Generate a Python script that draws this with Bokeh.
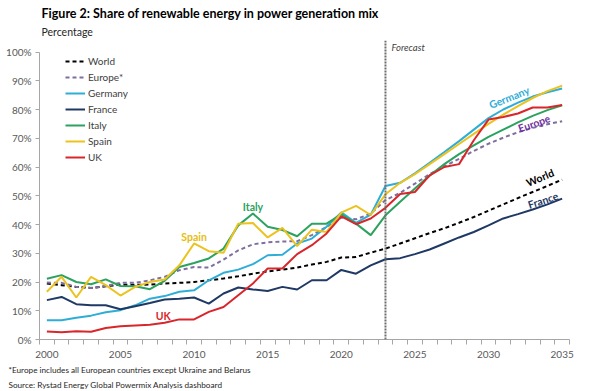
from bokeh.plotting import figure
from bokeh.models import Range1d, FixedTicker, Label, Span, Legend, LegendItem, CustomJSTickFormatter, Title
from bokeh.embed import file_html
from bokeh.resources import INLINE

years = list(range(2000, 2036))

world = [19.5, 18.9, 18.3, 17.9, 18.5, 19.1, 19.0, 19.1, 19.5, 19.7, 20.0, 20.6, 21.2, 22.0, 22.9, 23.7, 24.3, 25.0,
         26.1, 27.0, 28.5, 28.7, 30.2, 31.6, 33.4, 35.2, 37.0, 38.7, 40.6, 42.6, 44.8, 47.0, 49.2, 51.3, 53.4, 55.6]
europe = [19.8, 19.7, 18.3, 17.9, 18.6, 19.7, 19.7, 20.6, 21.8, 24.1, 25.2, 25.0, 27.8, 31.0, 33.1, 33.8, 34.1, 34.2,
          36.3, 39.2, 42.4, 41.8, 43.8, 48.5, 51.0, 54.2, 57.5, 60.3, 62.8, 65.6, 68.1, 70.2, 72.1, 73.6, 74.9, 75.9]
germany = [6.7, 6.7, 7.6, 8.3, 9.5, 10.2, 11.9, 14.2, 15.1, 16.6, 17.1, 20.6, 23.2, 24.3, 26.2, 29.3, 29.5, 33.4,
           35.1, 39.2, 44.2, 40.6, 43.4, 53.4, 54.5, 57.8, 61.5, 65.2, 69.0, 73.0, 77.0, 80.0, 82.4, 84.5, 86.0, 87.3]
france = [13.7, 14.8, 12.3, 11.9, 11.9, 10.5, 11.6, 12.7, 13.9, 14.2, 14.6, 12.5, 16.0, 18.1, 17.4, 16.9, 18.3, 17.4,
          20.6, 20.6, 24.2, 22.9, 25.8, 27.9, 28.3, 29.7, 31.3, 33.4, 35.5, 37.4, 39.7, 42.1, 43.6, 45.2, 47.0, 49.0]
italy = [21.1, 22.4, 20.0, 19.2, 20.9, 18.6, 18.5, 17.5, 20.4, 25.2, 26.6, 28.2, 31.6, 39.7, 43.8, 39.2, 38.1, 35.9,
         40.3, 40.3, 43.5, 40.3, 36.3, 43.2, 47.9, 52.5, 57.0, 61.0, 64.5, 67.5, 70.5, 73.0, 75.5, 77.8, 79.8, 81.5]
spain = [16.6, 21.8, 14.6, 21.8, 18.9, 15.3, 18.3, 20.0, 20.9, 25.8, 33.4, 30.7, 30.2, 40.3, 40.5, 35.5, 38.8, 32.5,
         38.2, 37.4, 44.1, 46.5, 43.3, 50.5, 54.5, 57.5, 61.0, 64.5, 68.0, 71.5, 75.0, 78.2, 81.2, 84.0, 86.4, 88.3]
uk = [2.8, 2.5, 2.9, 2.7, 4.0, 4.6, 4.9, 5.1, 5.8, 7.0, 7.0, 9.6, 11.3, 15.4, 19.5, 24.7, 24.7, 29.7,
      32.8, 36.9, 42.8, 40.1, 42.1, 45.8, 50.6, 51.3, 57.1, 60.0, 61.0, 69.3, 76.5, 77.4, 78.6, 80.7, 80.7, 81.6]

series_names = ["World", "Europe*", "Germany", "France", "Italy", "Spain", "UK"]
series_values = [world, europe, germany, france, italy, spain, uk]
series_colors = ["#000000", "#7f6f9e", "#2eaed6", "#1f3864", "#2ca25f", "#ecc31e", "#d9262b"]
series_dash = ["4 3", "4 3", "solid", "solid", "solid", "solid", "solid"]

x_tick_labels = [2000, 2005, 2010, 2015, 2020, 2025, 2030, 2035]
y_tick_values = [0, 10, 20, 30, 40, 50, 60, 70, 80, 90, 100]
forecast_year = 2023

FONT = "Lato"
AXIS_COL = "#a6a6a6"
TEXT_COL = "#595959"

p = figure(width=600, height=391, output_backend="svg", toolbar_location=None,
           x_range=Range1d(1999.5, 2035.5), y_range=Range1d(0, 104),
           min_border_left=39, min_border_right=31, min_border_top=40, min_border_bottom=52)
p.outline_line_color = None
p.xgrid.grid_line_color = None
p.ygrid.grid_line_color = None
p.background_fill_color = "white"
p.border_fill_color = "white"

# titles (first added sits nearest the frame)
p.add_layout(Title(text="Percentage", align="left", offset=2, standoff=6,
                   text_font=FONT, text_font_size="10.5px", text_font_style="normal",
                   text_color="#262626"), "above")
p.add_layout(Title(text="Figure 2: Share of renewable energy in power generation mix", align="left",
                   offset=2, standoff=0, text_font=FONT, text_font_size="12.5px",
                   text_font_style="bold", text_color="#000000"), "above")

items = []
for name, vals, col, dash in zip(series_names, series_values, series_colors, series_dash):
    r = p.line(years, vals, line_color=col, line_width=2, line_dash=dash)
    items.append(LegendItem(label=name, renderers=[r]))

legend = Legend(items=items, location=(26, 174), glyph_width=20, glyph_height=16, label_height=16,
                spacing=0, padding=0, margin=0, label_standoff=3, border_line_alpha=0,
                background_fill_alpha=0, label_text_font=FONT, label_text_font_size="10px",
                label_text_color="#404040")
p.add_layout(legend)

# axes
xa = p.xaxis[0]
xa.ticker = FixedTicker(ticks=x_tick_labels, minor_ticks=[y - 0.5 for y in years] + [2035.5])
xa.major_tick_out = 0
xa.major_tick_in = 0
xa.minor_tick_out = 5
xa.minor_tick_in = 0
xa.minor_tick_line_color = AXIS_COL
xa.axis_line_color = AXIS_COL
xa.major_label_standoff = 6
xa.major_label_text_font = FONT
xa.major_label_text_font_size = "10px"
xa.major_label_text_color = TEXT_COL

ya = p.yaxis[0]
ya.ticker = FixedTicker(ticks=y_tick_values)
ya.bounds = (0, 100)
ya.formatter = CustomJSTickFormatter(code="return tick.toFixed(0) + '%';")
ya.major_tick_out = 4
ya.major_tick_in = 0
ya.minor_tick_out = 0
ya.minor_tick_in = 0
ya.major_tick_line_color = AXIS_COL
ya.axis_line_color = AXIS_COL
ya.major_label_standoff = 4
ya.major_label_text_font = FONT
ya.major_label_text_font_size = "10px"
ya.major_label_text_color = TEXT_COL

# footnotes (first added sits nearest the axis)
p.add_layout(Title(text="*Europe includes all European countries except Ukraine and Belarus", align="left",
                   offset=-31, standoff=5, text_font=FONT, text_font_size="8.2px",
                   text_font_style="normal", text_color="#262626"), "below")
p.add_layout(Title(text="Source: Rystad Energy Global Powermix Analysis dashboard", align="left",
                   offset=-31, standoff=0, text_font=FONT, text_font_size="8.2px",
                   text_font_style="normal", text_color="#262626"), "below")

# forecast divider
p.add_layout(Span(location=forecast_year, dimension="height",
                  line_color="#6f6f6f", line_width=2, line_dash="2 1"))
p.add_layout(Label(x=forecast_year, y=101.6, x_offset=6, text="Forecast", text_baseline="middle",
                   text_font=FONT, text_font_style="italic", text_font_size="9.5px",
                   text_color="#404040"))

# series labels
lab = [("Germany", 2031.4, 84.2, 0.38, "#2eaed6"),
       ("Europe", 2033.1, 75.2, 0.34, "#7030a0"),
       ("World", 2033.5, 56.3, 0.40, "#000000"),
       ("France", 2033.7, 48.4, 0.32, "#1f3864"),
       ("Italy", 2014.0, 46.0, 0.0, "#2ca25f"),
       ("Spain", 2010.0, 35.6, 0.0, "#e8bc10"),
       ("UK", 2007.9, 8.1, 0.0, "#d9262b")]
for t, x, y, a, c in lab:
    p.add_layout(Label(x=x, y=y, text=t, angle=a, text_align="center", text_baseline="middle",
                       text_font=FONT, text_font_style="bold", text_font_size="10.5px", text_color=c))

open("out.html", "w").write(file_html(p, INLINE))
